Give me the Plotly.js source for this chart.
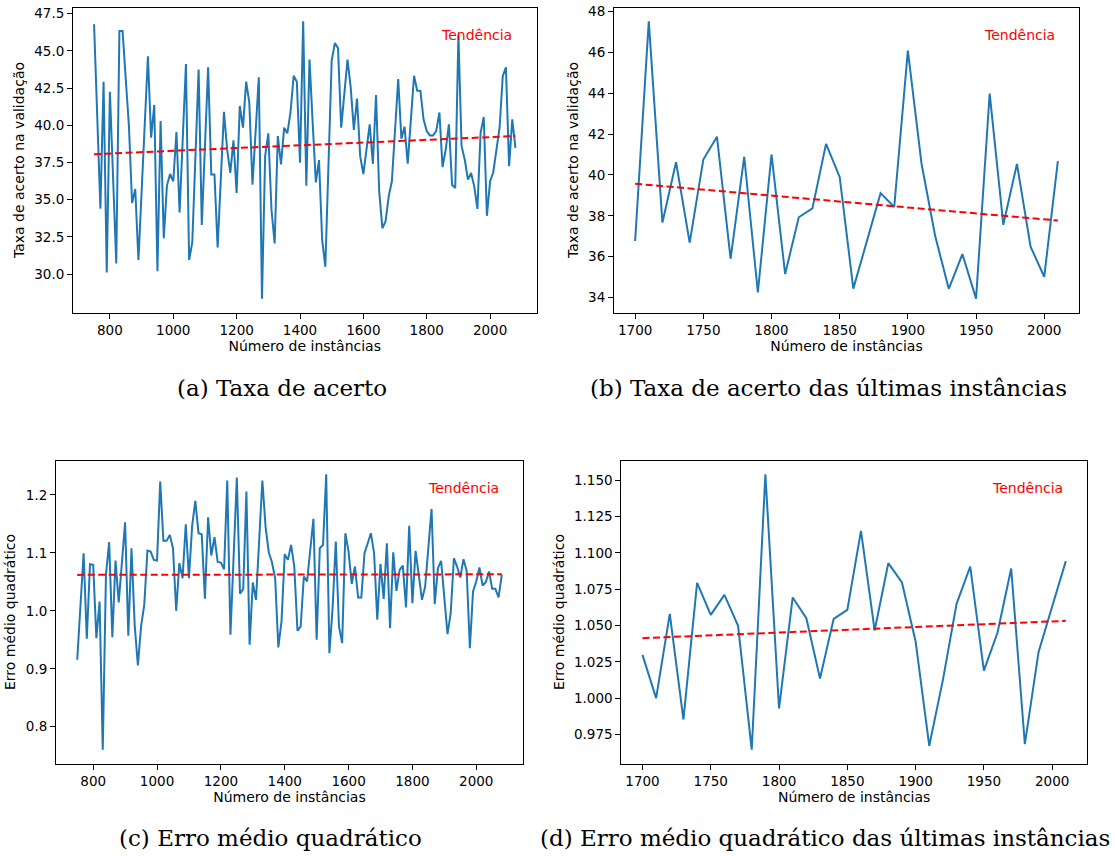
<!DOCTYPE html>
<html>
<head>
<meta charset="utf-8">
<script src="https://cdn.plot.ly/plotly-3.0.1.min.js"></script>
<style>html,body{margin:0;padding:0;background:#fff;}#chart{width:1115px;height:856px;}</style>
</head>
<body>
<div id="chart"></div>
<script>
// ---- Data ----
const instanciasAll = [750,760,770,780,790,800,810,820,830,840,850,860,870,880,890,900,910,920,930,940,950,960,970,980,990,1000,1010,1020,1030,1040,1050,1060,1070,1080,1090,1100,1110,1120,1130,1140,1150,1160,1170,1180,1190,1200,1210,1220,1230,1240,1250,1260,1270,1280,1290,1300,1310,1320,1330,1340,1350,1360,1370,1380,1390,1400,1410,1420,1430,1440,1450,1460,1470,1480,1490,1500,1510,1520,1530,1540,1550,1560,1570,1580,1590,1600,1610,1620,1630,1640,1650,1660,1670,1680,1690,1700,1710,1720,1730,1740,1750,1760,1770,1780,1790,1800,1810,1820,1830,1840,1850,1860,1870,1880,1890,1900,1910,1920,1930,1940,1950,1960,1970,1980,1990,2000,2010,2020,2030,2040,2050,2060,2070,2080];

const taxaAcerto = [
46.78,40.59,34.39,42.93,30.11,42.25,36.49,30.72,46.33,46.33,
43.11,39.96,34.78,35.72,30.95,35.52,40.07,44.64,39.17,41.37,
30.20,40.29,32.41,35.95,36.73,36.24,39.55,34.14,39.15,44.12,
30.95,32.14,37.93,43.74,33.31,38.60,43.90,36.69,36.69,31.80,
36.35,40.90,38.38,36.80,38.99,35.45,41.30,39.84,42.93,41.53,
36.01,39.62,43.22,28.36,37.93,39.46,34.33,32.07,39.28,37.37,
39.84,39.46,40.86,43.33,42.93,37.48,46.98,35.95,44.41,40.18,
36.17,37.66,32.30,30.50,37.48,44.35,45.52,45.18,39.84,42.21,
44.41,42.55,39.69,41.80,37.93,36.73,38.38,40.07,37.41,42.03,
35.56,33.09,33.54,35.23,36.24,39.73,43.11,39.10,39.91,37.43,
40.40,43.33,42.32,42.32,40.40,39.62,39.32,39.32,39.62,40.86,
37.19,38.38,40.07,36.01,35.79,46.08,38.60,37.70,36.35,36.80,
35.90,34.39,39.50,40.56,33.92,36.24,36.85,38.27,39.84,43.29,
43.90,37.25,40.40,38.49];

const erroMedio = [
0.9155,1.0074,1.0994,0.9517,1.0804,1.0793,0.9528,1.0161,0.7603,1.0620,
1.1184,0.9546,1.0868,1.0143,1.0850,1.1528,0.9569,1.1080,0.9758,0.9057,
0.9730,1.0103,1.1040,1.1023,1.0879,1.0868,1.2230,1.1207,1.1207,1.1310,
1.1080,1.0000,1.0822,1.0563,1.1494,1.0563,1.1465,1.1896,1.1339,1.1322,
1.0207,1.1615,1.0954,1.1270,1.0842,1.0833,1.0718,1.2247,0.9586,1.0940,
1.2299,1.0293,1.0379,1.2057,0.9414,1.0488,1.0189,1.1218,1.2247,1.1454,
1.1011,1.0839,1.0563,0.9368,0.9816,1.0977,1.0879,1.1138,1.0764,0.9655,
0.9730,1.0592,1.0506,1.1051,1.1586,0.9500,1.1080,1.1138,1.2356,0.9270,
1.0046,1.1195,0.9730,0.9442,1.1339,1.1023,1.0465,1.0764,1.0230,1.0230,
1.0994,1.1166,1.1339,1.0994,0.9845,1.0810,1.0207,1.1166,0.9701,1.1011,
1.0345,1.0707,1.0781,1.0057,1.1465,1.0132,1.1034,1.0620,1.0189,1.0419,
1.1080,1.1758,1.0115,1.0735,1.0862,1.0218,0.9597,0.9959,1.0908,1.0764,
1.0574,1.0890,1.0690,0.9356,1.0333,1.0506,1.0747,1.0437,1.0494,1.0678,
1.0379,1.0379,1.0230,1.0620];

const instanciasUltimas = [1700,1710,1720,1730,1740,1750,1760,1770,1780,1790,1800,1810,1820,1830,1840,1850,1860,1870,1880,1890,1900,1910,1920,1930,1940,1950,1960,1970,1980,1990,2000,2010];

const taxaUltimas = [36.77,47.51,37.67,40.62,36.69,40.75,41.87,35.90,40.89,34.25,41.00,35.15,37.93,38.36,41.52,39.90,34.44,36.79,39.11,38.43,46.08,40.56,37.02,34.43,36.13,33.95,43.98,37.56,40.54,36.49,35.02,40.67];

const erroUltimas = [1.0298,1.0000,1.0580,0.9853,1.0794,1.0573,1.0711,1.0498,0.9645,1.1541,0.9929,1.0693,1.0550,1.0135,1.0546,1.0608,1.1151,1.0466,1.0929,1.0796,1.0390,0.9672,1.0126,1.0649,1.0906,1.0190,1.0452,1.0892,0.9683,1.0317,1.0631,1.0943];

// trend-line end values
const tendAllX = [750, 2080];
const tendTaxaAll = [38.06, 39.28];
const tendErroAll = [1.062, 1.063];
const tendUltX = [1700, 2010];
const tendTaxaUlt = [39.57, 37.77];
const tendErroUlt = [1.0413, 1.0532];

// tick labels
const ticksAllX = [800,1000,1200,1400,1600,1800,2000];
const ticksUltX = [1700,1750,1800,1850,1900,1950,2000];
const ticksTaxaAll = [30.0,32.5,35.0,37.5,40.0,42.5,45.0,47.5];
const ticksTaxaAllTxt = ['30.0','32.5','35.0','37.5','40.0','42.5','45.0','47.5'];
const ticksTaxaUlt = [34,36,38,40,42,44,46,48];
const ticksErroAll = [0.8,0.9,1.0,1.1,1.2];
const ticksErroAllTxt = ['0.8','0.9','1.0','1.1','1.2'];
const ticksErroUlt = [0.975,1.0,1.025,1.05,1.075,1.1,1.125,1.15];
const ticksErroUltTxt = ['0.975','1.000','1.025','1.050','1.075','1.100','1.125','1.150'];

const captions = ['(a) Taxa de acerto','(b) Taxa de acerto das últimas instâncias','(c) Erro médio quadrático','(d) Erro médio quadrático das últimas instâncias'];
const labelTaxa = 'Taxa de acerto na validação';
const labelErro = 'Erro médio quadrático';
const labelX = 'Número de instâncias';
const labelTend = 'Tendência';

// ---- Styling ----
const BLUE = '#1f77b4', RED = '#ff0000';
const FONT = 'DejaVu Sans';
function pad(arr){ const mn=Math.min(...arr), mx=Math.max(...arr), s=mx-mn; return [mn-0.05*s, mx+0.05*s]; }

function series(x,y,xa,ya){ return {x:x,y:y,xaxis:xa,yaxis:ya,type:'scatter',mode:'lines',line:{color:BLUE,width:2},hoverinfo:'skip',showlegend:false}; }
function trend(x,y,xa,ya){ return {x:x,y:y,xaxis:xa,yaxis:ya,type:'scatter',mode:'lines',line:{color:RED,width:2,dash:'7px,3.5px'},hoverinfo:'skip',showlegend:false}; }

const data = [
  series(instanciasAll,taxaAcerto,'x','y'), trend(tendAllX,tendTaxaAll,'x','y'),
  series(instanciasUltimas,taxaUltimas,'x2','y2'), trend(tendUltX,tendTaxaUlt,'x2','y2'),
  series(instanciasAll,erroMedio,'x3','y3'), trend(tendAllX,tendErroAll,'x3','y3'),
  series(instanciasUltimas,erroUltimas,'x4','y4'), trend(tendUltX,tendErroUlt,'x4','y4')
];

function xax(domain, anchor, tv, rng){
  return {domain:domain, anchor:anchor, range:rng, tickmode:'array', tickvals:tv, ticktext:tv.map(String),
    showline:true, mirror:true, linecolor:'#000', linewidth:1, ticks:'outside', ticklen:5, tickwidth:1, tickcolor:'#000',
    showgrid:false, zeroline:false, tickfont:{family:FONT,size:13.5,color:'#000'},
    title:{text:labelX, font:{family:FONT,size:14,color:'#000'}, standoff:4}};
}
function yax(domain, anchor, tv, tt, rng, label){
  return {domain:domain, anchor:anchor, range:rng, tickmode:'array', tickvals:tv, ticktext:tt,
    showline:true, mirror:true, linecolor:'#000', linewidth:1, ticks:'outside', ticklen:5, tickwidth:1, tickcolor:'#000',
    showgrid:false, zeroline:false, tickfont:{family:FONT,size:13.5,color:'#000'},
    title:{text:label, font:{family:FONT,size:14,color:'#000'}, standoff:6}};
}

const W=1115, H=856;
const dA = {x:[73/W,536.5/W], y:[1-312.5/H,1-7.5/H]};
const dB = {x:[614/W,1079/W], y:[1-312.5/H,1-7.5/H]};
const dC = {x:[56/W,523/W], y:[1-763.5/H,1-460.5/H]};
const dD = {x:[621.3/W,1087/W], y:[1-763.5/H,1-460.5/H]};

const rAllX = pad(instanciasAll), rUltX = pad(instanciasUltimas);

function tend(xref, yref){ return {xref:xref+' domain', yref:yref+' domain', x:0.952, y:0.91, xanchor:'right', yanchor:'middle', showarrow:false, text:labelTend, font:{family:FONT,size:14,color:RED}}; }
function cap(text, xc, yc){ return {xref:'paper', yref:'paper', x:xc/W, y:1-yc/H, xanchor:'center', yanchor:'middle', showarrow:false, text:text, font:{family:'DejaVu Serif',size:23,color:'#000'}}; }

const layout = {
  width:W, height:H, margin:{l:0,r:0,t:0,b:0}, paper_bgcolor:'#fff', plot_bgcolor:'#fff', showlegend:false,
  font:{family:FONT,size:13,color:'#000'},
  xaxis: xax(dA.x,'y',ticksAllX,rAllX),
  yaxis: yax(dA.y,'x',ticksTaxaAll,ticksTaxaAllTxt,pad(taxaAcerto),labelTaxa),
  xaxis2: xax(dB.x,'y2',ticksUltX,rUltX),
  yaxis2: yax(dB.y,'x2',ticksTaxaUlt,ticksTaxaUlt.map(String),pad(taxaUltimas),labelTaxa),
  xaxis3: xax(dC.x,'y3',ticksAllX,rAllX),
  yaxis3: yax(dC.y,'x3',ticksErroAll,ticksErroAllTxt,pad(erroMedio),labelErro),
  xaxis4: xax(dD.x,'y4',ticksUltX,rUltX),
  yaxis4: yax(dD.y,'x4',ticksErroUlt,ticksErroUltTxt,pad(erroUltimas),labelErro),
  annotations:[
    tend('x','y'), tend('x2','y2'), tend('x3','y3'), tend('x4','y4'),
    cap(captions[0],282,388), cap(captions[1],829,388), cap(captions[2],270,838), cap(captions[3],825,838)
  ]
};

Plotly.newPlot('chart', data, layout, {staticPlot:true, displayModeBar:false});
</script>
</body>
</html>
